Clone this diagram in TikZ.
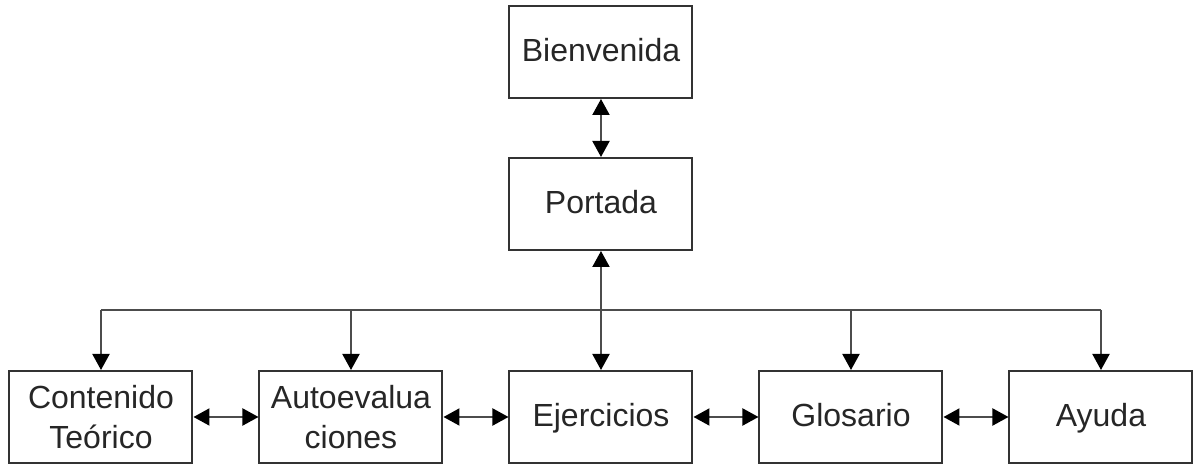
\documentclass[tikz,border=0pt]{standalone}
\usepackage{fontspec}
\setmainfont{Liberation Sans}
\usetikzlibrary{arrows.meta, positioning}

\begin{document}
\begin{tikzpicture}[
	block/.style={draw=black!80, line width=1pt, minimum width=91.5pt, minimum height=46pt, align=center, text=black!85, font=\fontsize{16}{20}\selectfont},
	single/.style={text height=11.5pt, text depth=1.5pt},
	tip/.tip={Triangle[length=8pt,width=8.5pt,color=black]},
	arrow/.style={-tip, line width=1pt, draw=black!70},
	darrow/.style={tip-tip, line width=1pt, draw=black!70},
	line/.style={line width=1pt, draw=black!70},
	coord/.style={coordinate}
	]
	\useasboundingbox (-300.5pt,-23.5pt) rectangle (297.5pt,208.5pt);

	\node[block, single] (ejercicios) {Ejercicios};
	\node[block, left=32.5pt of ejercicios] (autoeval) {Autoevalua\\ciones};
	\node[block, left=32.5pt of autoeval] (contenido) {Contenido\\Teórico};
	\node[block, single, right=32.5pt of ejercicios] (glosario) {Glosario};
	\node[block, single, right=32.5pt of glosario] (ayuda) {Ayuda};
	\node[block, single, above=59.5pt of ejercicios] (portada) {Portada};
	\node[block, single, above=29pt of portada] (bienvenida) {Bienvenida};
	\coordinate[above=30pt of ejercicios.north] (bus);

	% Connections
	\draw[darrow] (bienvenida) -- (portada);
	\draw[darrow] (portada) -- (ejercicios);
	\draw[line] (contenido.north |- bus) -- (ayuda.north |- bus);
	\draw[arrow] (contenido.north |- bus) -- (contenido.north);
	\draw[arrow] (autoeval.north |- bus) -- (autoeval.north);
	\draw[arrow] (glosario.north |- bus) -- (glosario.north);
	\draw[arrow] (ayuda.north |- bus) -- (ayuda.north);
	\draw[darrow] (contenido) -- (autoeval);
	\draw[darrow] (autoeval) -- (ejercicios);
	\draw[darrow] (ejercicios) -- (glosario);
	\draw[darrow] (glosario) -- (ayuda);

\end{tikzpicture}
\end{document}
